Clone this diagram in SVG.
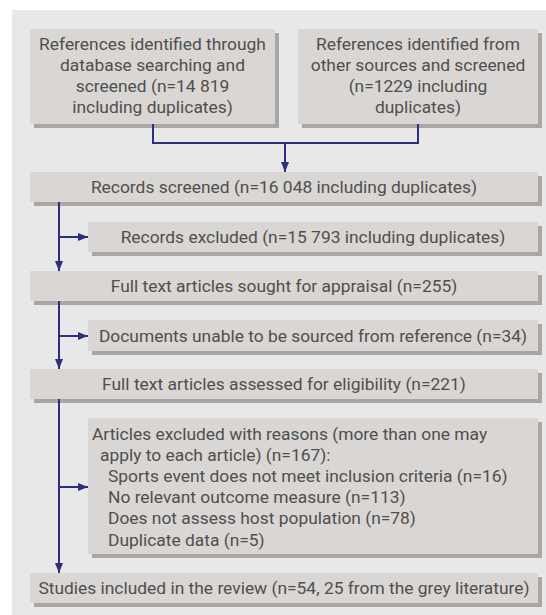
<svg xmlns="http://www.w3.org/2000/svg" width="546" height="615" viewBox="0 0 546 615">
<style>
.box{fill:#d9d6d3}
.sh{fill:#a9a6a4}
.t{font-family:Roboto,"Noto Sans",sans-serif;font-size:17.4px;fill:#4f4f4f}
.c{text-anchor:middle}
.ln{stroke:#2e2e80;stroke-width:2;fill:none}
</style>
<defs>
<marker id="ah" markerWidth="10" markerHeight="8" refX="10" refY="4" orient="auto" markerUnits="userSpaceOnUse">
<path d="M0,0 L10,4 L0,8 Z" fill="#2e2e80"/>
</marker>
</defs>
<rect x="12" y="10" width="534" height="605" fill="#e8e8e8"/>

<g id="n1">
<rect class="sh" x="34" y="33" width="245" height="95"/>
<rect class="box" x="30" y="29" width="245" height="95"/>
<text class="t c" x="152.5" y="50">References identified through</text>
<text class="t c" x="152.5" y="71">database searching and</text>
<text class="t c" x="152.5" y="92">screened (n=14 819</text>
<text class="t c" x="152.5" y="113">including duplicates)</text>
</g>
<g id="n2">
<rect class="sh" x="302" y="33" width="240" height="95"/>
<rect class="box" x="298" y="29" width="240" height="95"/>
<text class="t c" x="418" y="50">References identified from</text>
<text class="t c" x="418" y="71">other sources and screened</text>
<text class="t c" x="418" y="92">(n=1229 including</text>
<text class="t c" x="418" y="113">duplicates)</text>
</g>
<g id="n3">
<rect class="sh" x="34" y="176" width="508" height="30"/>
<rect class="box" x="30" y="172" width="508" height="30"/>
<text class="t c" x="284" y="193">Records screened (n=16 048 including duplicates)</text>
</g>
<g id="n4">
<rect class="sh" x="92" y="226" width="450" height="30"/>
<rect class="box" x="88" y="222" width="450" height="30"/>
<text class="t c" x="313" y="243">Records excluded (n=15 793 including duplicates)</text>
</g>
<g id="n5">
<rect class="sh" x="34" y="275" width="508" height="30"/>
<rect class="box" x="30" y="271" width="508" height="30"/>
<text class="t c" x="284" y="292">Full text articles sought for appraisal (n=255)</text>
</g>
<g id="n6">
<rect class="sh" x="92" y="324" width="450" height="31"/>
<rect class="box" x="88" y="320" width="450" height="31"/>
<text class="t c" x="313" y="342">Documents unable to be sourced from reference (n=34)</text>
</g>
<g id="n7">
<rect class="sh" x="34" y="373" width="508" height="30"/>
<rect class="box" x="30" y="369" width="508" height="30"/>
<text class="t c" x="284" y="390">Full text articles assessed for eligibility (n=221)</text>
</g>
<g id="n8">
<rect class="sh" x="92" y="422" width="450" height="136"/>
<rect class="box" x="88" y="418" width="450" height="136"/>
<text class="t" x="92" y="440">Articles excluded with reasons (more than one may</text>
<text class="t" x="100" y="461">apply to each article) (n=167):</text>
<text class="t" x="108" y="482">Sports event does not meet inclusion criteria (n=16)</text>
<text class="t" x="108" y="503">No relevant outcome measure (n=113)</text>
<text class="t" x="108" y="524">Does not assess host population (n=78)</text>
<text class="t" x="108" y="546">Duplicate data (n=5)</text>
</g>
<g id="n9">
<rect class="sh" x="34" y="577" width="508" height="30"/>
<rect class="box" x="30" y="573" width="508" height="30"/>
<text class="t c" x="284" y="594">Studies included in the review (n=54, 25 from the grey literature)</text>
</g>

<g id="connectors">
<path class="ln" d="M153,124 V143 H418 V124"/>
<path class="ln" d="M285,143 V172" marker-end="url(#ah)"/>
<path class="ln" d="M59,202 V271" marker-end="url(#ah)"/>
<path class="ln" d="M59,237 H88" marker-end="url(#ah)"/>
<path class="ln" d="M59,301 V369" marker-end="url(#ah)"/>
<path class="ln" d="M59,336 H88" marker-end="url(#ah)"/>
<path class="ln" d="M59,399 V573" marker-end="url(#ah)"/>
<path class="ln" d="M59,487 H88" marker-end="url(#ah)"/>
</g>
</svg>
